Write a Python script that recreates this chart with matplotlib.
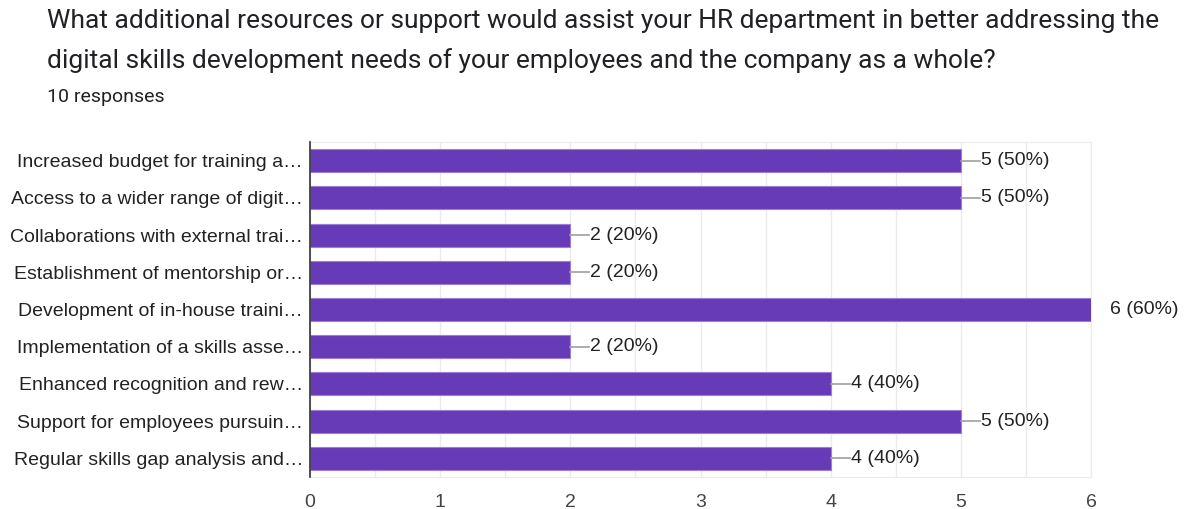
import matplotlib
matplotlib.use("Agg")
import matplotlib.pyplot as plt
from matplotlib.ticker import MultipleLocator

title_lines = [
    "What additional resources or support would assist your HR department in better addressing the",
    "digital skills development needs of your employees and the company as a whole?",
]
subtitle = "10 responses"

categories = [
    "Increased budget for training a…",
    "Access to a wider range of digit…",
    "Collaborations with external trai…",
    "Establishment of mentorship or…",
    "Development of in-house traini…",
    "Implementation of a skills asse…",
    "Enhanced recognition and rew…",
    "Support for employees pursuin…",
    "Regular skills gap analysis and…",
]
counts = [5, 5, 2, 2, 6, 2, 4, 5, 4]
total = 10
xticks = [0, 1, 2, 3, 4, 5, 6]

W, H = 1194, 509
fig = plt.figure(figsize=(W / 100, H / 100), dpi=100)

for i, line in enumerate(title_lines):
    fig.text(47 / W, 1 - (21 + 40 * i) / H, line, fontsize=19, family="Roboto",
             color="#202124", va="center", ha="left")
fig.text(47 / W, 1 - 97 / H, subtitle, fontsize=14, family="Roboto", color="#202124",
         va="center", ha="left")

left, right, top, bottom = 310, 1091, 142, 477
ax = fig.add_axes([left / W, 1 - bottom / H, (right - left) / W, (bottom - top) / H])

n = len(categories)
ypos = list(range(n))
ax.barh(ypos, counts, height=0.62, color="#673AB7", edgecolor="#9C7FD6", linewidth=0.8, zorder=3)
ax.set_ylim(n - 0.5, -0.5)
ax.set_xlim(0, 6)

ax.set_yticks(ypos)
ax.set_yticklabels(categories, family="Liberation Sans", fontsize=14, color="#222222")
ax.set_xticks(xticks)
ax.set_xticklabels([str(t) for t in xticks], family="Liberation Sans", fontsize=14, color="#444444")
ax.xaxis.set_minor_locator(MultipleLocator(0.5))
ax.tick_params(axis="both", which="both", length=0)
ax.tick_params(axis="y", pad=5)
ax.tick_params(axis="x", pad=12)

ax.grid(axis="x", which="both", color="#EBEBEB", linewidth=1, zorder=0)
for side in ["top", "right", "bottom"]:
    ax.spines[side].set_color("#EBEBEB")
ax.spines["left"].set_color("#333333")
ax.spines["left"].set_linewidth(1.2)
ax.spines["left"].set_zorder(4)

unit_px = (right - left) / 6
for y, c in zip(ypos, counts):
    label = f"{c} ({c / total:.0%})"
    if c < 6:
        lead = 19 / unit_px
        ax.plot([c, c + lead], [y, y], color="#9E9E9E", linewidth=1.2, zorder=4, clip_on=False)
        ax.text(c + lead + 1 / unit_px, y, label, va="center", ha="left", fontsize=14,
                family="Liberation Sans", color="#222222", clip_on=False)
    else:
        ax.text(c + 19 / unit_px, y, label, va="center", ha="left", fontsize=14,
                family="Liberation Sans", color="#222222", clip_on=False)

fig.savefig("out.png", dpi=100, facecolor="white")
